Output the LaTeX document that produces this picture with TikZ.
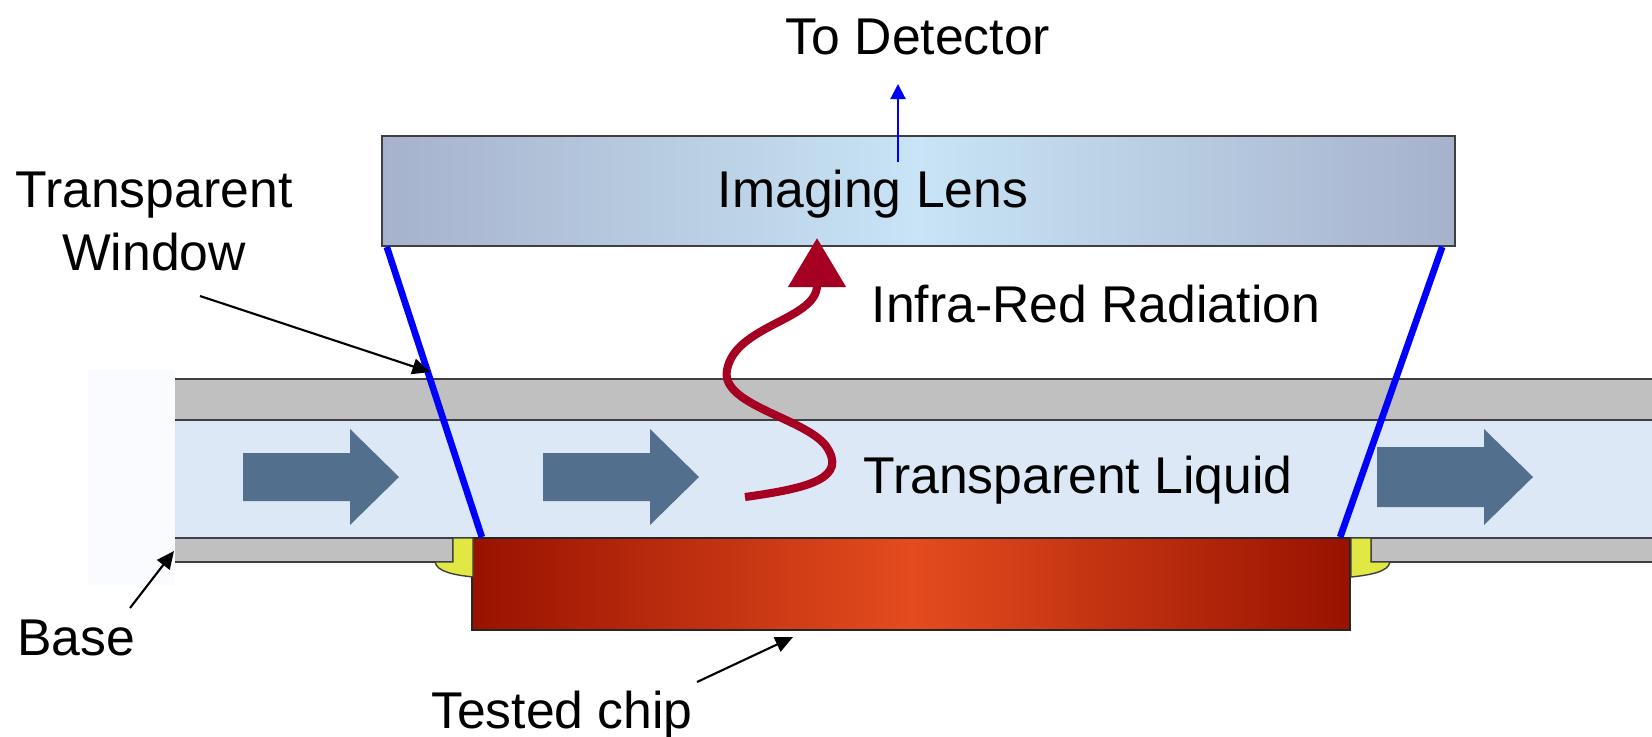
\documentclass[tikz,border=0pt]{standalone}
\usepackage{fontspec}
\setmainfont{Liberation Sans}
\usetikzlibrary{arrows.meta, positioning}

\definecolor{lensedge}{HTML}{A6B2CB}
\definecolor{lensmid}{HTML}{C8E4F6}
\definecolor{chipedge}{HTML}{981200}
\definecolor{chipmid}{HTML}{E44C1E}
\definecolor{liquid}{HTML}{DCE8F5}
\definecolor{wall}{HTML}{BFC0BF}
\definecolor{wallline}{HTML}{3F3F3F}
\definecolor{flowblue}{HTML}{52708E}
\definecolor{sealyellow}{HTML}{E2E843}
\definecolor{irred}{HTML}{A50021}
\definecolor{haze}{HTML}{FAFBFF}

\tikzset{
  caption/.style = {font=\fontsize{14.7pt}{17.9pt}\selectfont, inner sep=0pt,
    anchor=base, align=center},
  lens/.style = {rectangle, draw=wallline, line width=0.5pt,
    left color=lensedge, right color=lensedge, middle color=lensmid,
    minimum width=10.73cm, minimum height=1.1cm, inner sep=0pt},
  chip/.style = {rectangle, draw=black!85, line width=0.5pt,
    left color=chipedge, right color=chipedge, middle color=chipmid,
    minimum width=8.78cm, minimum height=0.92cm, inner sep=0pt},
  edge/.style = {draw=wallline, line width=0.5pt},
  seal/.style = {fill=sealyellow, draw=wallline, line width=0.4pt},
  viewline/.style = {blue, line width=1.9pt},
  pointer/.style = {black, line width=0.6pt, -{Triangle[length=5pt,width=4.5pt]}},
  irray/.style = {irred, line width=2.3pt, -{Triangle[length=14pt,width=16pt]}}
}

\begin{document}
\begin{tikzpicture}[x=0.01cm, y=-0.01cm]
\useasboundingbox (0,0) rectangle (1652,736);

% cell walls and liquid
\fill[haze] (88,370) rectangle (175,585);
\fill[wall] (175,379) rectangle (1652,420);
\fill[liquid] (175,420) rectangle (1652,538);
\fill[wall] (175,538) rectangle (453,562);
\fill[wall] (1371,538) rectangle (1652,562);
\draw[edge] (175,379) -- (1652,379);
\draw[edge] (175,420) -- (1652,420);
\draw[edge] (175,538) -- (1652,538);
\draw[edge] (175,562) -- (453,562) -- (453,538);
\draw[edge] (1652,562) -- (1371,562) -- (1371,538);

% flow direction
\foreach \x/\w in {243/24, 543/24, 1377/30}
  \fill[flowblue] (\x,477-\w) -- (\x+107,477-\w) -- (\x+107,429) -- (\x+156,477)
    -- (\x+107,525) -- (\x+107,477+\w) -- (\x,477+\w) -- cycle;

% chip and seals
\node[chip] (chip) at (911,584) {};
\draw[seal] (453,538) -- (473,538) -- (473,577)
  .. controls (455,575) and (437,572) .. (435,562) -- (453,562) -- cycle;
\draw[seal] (1351,538) -- (1371,538) -- (1371,562) -- (1390,562)
  .. controls (1388,572) and (1370,575) .. (1351,577) -- cycle;

% lens
\node[lens] (lens) at (918.5,191) {};
\node[caption] (lenstext) at (873,207) {Imaging Lens};
\node[caption] (detector) at (918,54) {To Detector};
\coordinate (outlet) at (898,162);
\draw[blue, line width=0.6pt, -{Triangle[length=4.3pt,width=4.3pt]}]
  (outlet) -- (outlet |- 0,84);

\draw[viewline] ([xshift=0.06cm]lens.south west) -- ([xshift=0.11cm]chip.north west);
\draw[viewline] ([xshift=-0.14cm]lens.south east) -- ([xshift=-0.11cm]chip.north east);

% infra-red ray
\draw[irray] (745,497) .. controls (810,488) and (848,478) .. (826,446)
  .. controls (805,418) and (720,405) .. (727,370)
  .. controls (735,325) and (817,320) .. (817,238);

\node[caption] (irtext) at (1096,322) {Infra-Red Radiation};
\node[caption] (liqtext) at (1078,493) {Transparent Liquid};
\node[caption] (wintext) at (154,270) {Transparent\\Window};
\node[caption] (basetext) at (76,655) {Base};
\node[caption] (chiptext) at (562,728) {Tested chip};

% pointers
\coordinate (win tail) at (200,296);
\coordinate (win tip) at (430,372);
\coordinate (base tail) at (130,608);
\coordinate (base tip) at (174,551);
\coordinate (chip tail) at (697,682);
\coordinate (chip tip) at (793,637);
\draw[pointer] (win tail) -- (win tip);
\draw[pointer] (base tail) -- (base tip);
\draw[pointer] (chip tail) -- (chip tip);
\end{tikzpicture}
\end{document}
